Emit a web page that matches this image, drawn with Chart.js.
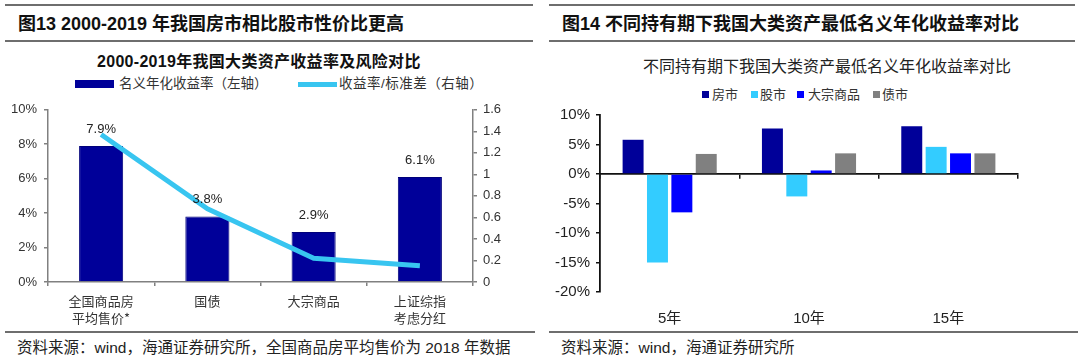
<!DOCTYPE html>
<html><head><meta charset="utf-8">
<script src="https://cdn.jsdelivr.net/npm/chart.js@4.4.1/dist/chart.umd.min.js"></script>
<style>
html,body{margin:0;padding:0;background:#fff;width:1080px;height:359px;overflow:hidden;position:relative;font-family:"Liberation Sans","Noto Sans CJK SC",sans-serif;}
.t{position:absolute;white-space:nowrap;line-height:1.2;color:#111;transform:translateY(-50%);}
.hl{position:absolute;height:2px;background:#6e6e6e;}
canvas{position:absolute;}
.sw{position:absolute;}
</style></head><body>

<div class="hl" style="left:5px;width:528px;top:4px"></div>
<div class="hl" style="left:5px;width:528px;top:40px"></div>
<div class="hl" style="left:5px;width:530px;top:331px"></div>
<div class="hl" style="left:549px;width:526px;top:4px"></div>
<div class="hl" style="left:549px;width:526px;top:40px"></div>
<div class="hl" style="left:549px;width:529px;top:331px"></div>

<div class="t" style="left:18px;top:25px;font-size:18px;font-weight:bold;">图13 2000-2019 年我国房市相比股市性价比更高</div>
<div class="t" style="left:562px;top:25px;font-size:18px;font-weight:bold;">图14 不同持有期下我国大类资产最低名义年化收益率对比</div>

<div class="t" style="left:97px;top:62px;font-size:16px;font-weight:bold;letter-spacing:0.3px">2000-2019年我国大类资产收益率及风险对比</div>
<div class="t" style="left:643px;top:67px;font-size:16px;color:#222;">不同持有期下我国大类资产最低名义年化收益率对比</div>

<!-- left legend -->
<div class="sw" style="left:75px;top:80px;width:39px;height:8px;background:#000099"></div>
<div class="t" style="left:119px;top:84px;font-size:13.5px;color:#333;">名义年化收益率（左轴）</div>
<div class="sw" style="left:298px;top:82px;width:39px;height:5px;background:#38C5F0"></div>
<div class="t" style="left:339px;top:84px;font-size:13.5px;color:#333;letter-spacing:0.5px">收益率/标准差（右轴）</div>

<!-- right legend -->
<div class="sw" style="left:702px;top:91px;width:7px;height:7px;background:#000099"></div>
<div class="t" style="left:712px;top:95px;font-size:13px;color:#333;">房市</div>
<div class="sw" style="left:751px;top:91px;width:7px;height:7px;background:#33CCFF"></div>
<div class="t" style="left:760px;top:95px;font-size:13px;color:#333;">股市</div>
<div class="sw" style="left:797px;top:91px;width:7px;height:7px;background:#0000FF"></div>
<div class="t" style="left:808px;top:95px;font-size:13px;color:#333;">大宗商品</div>
<div class="sw" style="left:873px;top:91px;width:7px;height:7px;background:#808080"></div>
<div class="t" style="left:882px;top:95px;font-size:13px;color:#333;">债市</div>

<div class="t" style="left:17px;top:348px;font-size:15.5px;color:#222;">资料来源：wind，海通证券研究所，全国商品房平均售价为 2018 年数据</div>
<div class="t" style="left:561px;top:348px;font-size:15.5px;color:#222;">资料来源：wind，海通证券研究所</div>

<canvas id="c1" width="540" height="240" style="left:0;top:95px"></canvas>
<canvas id="c2" width="532" height="230" style="left:548px;top:100px"></canvas>

<script>
// ---- Left chart data ----
const leftCategories = [['全国商品房', '平均售价*'], '国债', '大宗商品', ['上证综指', '考虑分红']];
const nominalReturn = [7.9, 3.8, 2.9, 6.1];
const returnPerStd = [1.37, 0.68, 0.22, 0.15];
const leftSeriesNames = ['名义年化收益率（左轴）', '收益率/标准差（右轴）'];

// ---- Right chart data ----
const holdCategories = ['5年', '10年', '15年'];
const housing = [5.8, 7.7, 8.1];
const stocks = [-15.0, -3.8, 4.6];
const commodities = [-6.5, 0.6, 3.5];
const bonds = [3.4, 3.5, 3.5];
const rightSeriesNames = ['房市', '股市', '大宗商品', '债市'];

Chart.defaults.animation = false;
Chart.defaults.font.family = '"Liberation Sans", "Noto Sans CJK SC", sans-serif';

const barLabels = {
  id: 'barLabels',
  afterDatasetsDraw(chart) {
    const ctx = chart.ctx;
    const meta = chart.getDatasetMeta(1);
    ctx.save();
    ctx.font = '13px "Liberation Sans", sans-serif';
    ctx.fillStyle = '#222';
    ctx.textAlign = 'center';
    ctx.textBaseline = 'middle';
    meta.data.forEach((el, i) => {
      ctx.fillText(nominalReturn[i].toFixed(1) + '%', el.x, el.y - 17);
    });
    ctx.restore();
  }
};

new Chart(document.getElementById('c1'), {
  type: 'bar',
  data: {
    labels: leftCategories,
    datasets: [
      {
        type: 'line', label: leftSeriesNames[1], data: returnPerStd, yAxisID: 'y1',
        borderColor: '#38C5F0', borderWidth: 5, pointRadius: 0, tension: 0, order: 0,
        borderJoinStyle: 'round', borderCapStyle: 'butt'
      },
      {
        type: 'bar', label: leftSeriesNames[0], data: nominalReturn, yAxisID: 'y',
        backgroundColor: '#000099', borderColor: '#00007a', borderWidth: 1,
        barPercentage: 0.415, categoryPercentage: 1.0, order: 1
      }
    ]
  },
  options: {
    responsive: false,
    layout: { padding: { top: 7, left: 0, right: 0, bottom: 0 } },
    plugins: { legend: { display: false }, title: { display: false }, tooltip: { enabled: false } },
    scales: {
      x: {
        offset: true,
        grid: { display: true, offset: true, drawOnChartArea: false, drawTicks: true, tickLength: 4, color: '#808080', lineWidth: 1.5 },
        border: { display: true, color: '#808080', width: 1.5 },
        ticks: { font: { size: 13, family: '"Noto Sans CJK SC", sans-serif', lineHeight: 1.3 }, color: '#333', padding: 7, maxRotation: 0, autoSkip: false },
        afterFit(s) { s.height = 53; }
      },
      y: {
        position: 'left', min: 0, max: 10,
        ticks: { stepSize: 2, callback: v => v + '%', font: { size: 13 }, color: '#333', padding: 7 },
        grid: { drawOnChartArea: false, tickLength: 4, color: '#808080', lineWidth: 1.5 },
        border: { color: '#808080', width: 1.5 },
        afterFit(s) { s.width = 48; }
      },
      y1: {
        position: 'right', min: 0, max: 1.6,
        ticks: { stepSize: 0.2, callback: v => String(Number(v.toFixed(1))), font: { size: 13 }, color: '#333', padding: 6 },
        grid: { drawOnChartArea: false, tickLength: 4, color: '#808080', lineWidth: 1.5 },
        border: { color: '#808080', width: 1.5 },
        afterFit(s) { s.width = 67; }
      }
    }
  },
  plugins: [barLabels]
});

const rightColors = ['#000099', '#33CCFF', '#0000FF', '#808080'];
const rightData = [housing, stocks, commodities, bonds];

new Chart(document.getElementById('c2'), {
  type: 'bar',
  data: {
    labels: holdCategories,
    datasets: rightData.map((d, i) => ({
      label: rightSeriesNames[i], data: d, backgroundColor: rightColors[i],
      barPercentage: 0.86, categoryPercentage: 0.7, xAxisID: 'x'
    }))
  },
  options: {
    responsive: false,
    layout: { padding: { top: 10.5, left: 0, right: 62, bottom: 0 } },
    plugins: { legend: { display: false }, title: { display: false }, tooltip: { enabled: false } },
    scales: {
      x: {
        type: 'category', position: { y: 0 }, offset: true,
        grid: { display: true, offset: true, drawOnChartArea: false, drawTicks: true, tickLength: 4, color: '#111', lineWidth: 1.5 },
        border: { display: true, color: '#111', width: 1.8 },
        ticks: { display: false }
      },
      xl: {
        type: 'category', position: 'bottom', offset: true, labels: holdCategories,
        grid: { display: false },
        border: { display: false },
        ticks: { font: { size: 15 }, color: '#222', padding: 10, maxRotation: 0 },
        afterFit(s) { s.height = 38; }
      },
      y: {
        position: 'left', min: -20, max: 10,
        ticks: { stepSize: 5, callback: v => v + '%', font: { size: 15 }, color: '#222', padding: 6 },
        grid: { drawOnChartArea: false, tickLength: 4, color: '#111', lineWidth: 1.5 },
        border: { color: '#111', width: 1.8 },
        afterFit(s) { s.width = 52; }
      }
    }
  }
});
</script>
</body></html>
